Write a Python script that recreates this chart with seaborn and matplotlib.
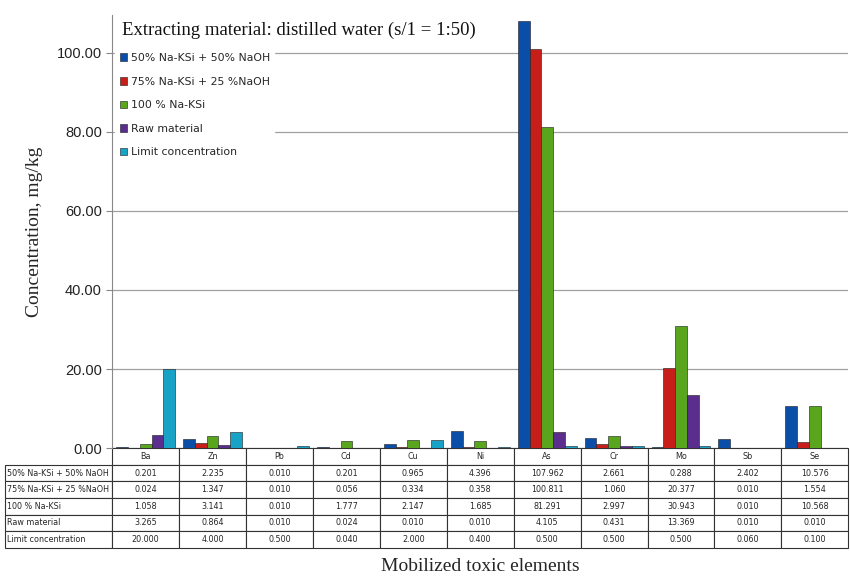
import pandas as pd
import matplotlib
matplotlib.use("Agg")
import matplotlib.pyplot as plt
import seaborn as sns

# 데이터
elements = ["Ba", "Zn", "Pb", "Cd", "Cu", "Ni", "As", "Cr", "Mo", "Sb", "Se"]
series_names = ["50% Na-KSi + 50% NaOH", "75% Na-KSi + 25 %NaOH", "100 % Na-KSi",
                "Raw material", "Limit concentration"]
table_names = ["50% Na-KSi + 50% NaOH", "75% Na-KSi + 25 %NaOH", "100 % Na-KSi",
               "Raw material", "Limit concentration"]
na50 = [0.201, 2.235, 0.010, 0.201, 0.965, 4.396, 107.962, 2.661, 0.288, 2.402, 10.576]
na75 = [0.024, 1.347, 0.010, 0.056, 0.334, 0.358, 100.811, 1.060, 20.377, 0.010, 1.554]
na100 = [1.058, 3.141, 0.010, 1.777, 2.147, 1.685, 81.291, 2.997, 30.943, 0.010, 10.568]
raw = [3.265, 0.864, 0.010, 0.024, 0.010, 0.010, 4.105, 0.431, 13.369, 0.010, 0.010]
limit = [20.000, 4.000, 0.500, 0.040, 2.000, 0.400, 0.500, 0.500, 0.500, 0.060, 0.100]
colors = ["#0b4ea8", "#c81e1a", "#5aa51e", "#5b2d8c", "#17a2c6"]

values = [na50, na75, na100, raw, limit]
rows = []
for name, vals in zip(series_names, values):
    for el, v in zip(elements, vals):
        rows.append({"element": el, "value": v, "series": name})
df = pd.DataFrame(rows)

sns.set_style("white")
fig = plt.figure(figsize = (8.5, 5.82), dpi = 100)
ax = fig.add_axes([0.132, 0.23, 0.866, 0.744])

sns.barplot(data = df, x = "element", y = "value", hue = "series", order = elements,
            hue_order = series_names, palette = colors, saturation = 1, width = 0.88, ax = ax,
            edgecolor = "#1a1a1a", linewidth = 0.4, zorder = 3)

ax.set_ylim(0, 109.5)
ax.set_xlim(-0.5, len(elements) - 0.5)
ax.set_yticks([0, 20, 40, 60, 80, 100])
ax.set_yticklabels([f"{t:.2f}" for t in [0, 20, 40, 60, 80, 100]],
                   fontsize = 10.5, family = "Liberation Sans", color = "#222222")
ax.tick_params(axis = "y", length = 4, color = "#888888", direction = "out", left = True)
ax.yaxis.grid(True, color = "#a0a0a0", linewidth = 0.9, zorder = 0)
ax.set_axisbelow(True)
for s in ["top", "right", "bottom"]:
    ax.spines[s].set_visible(False)
ax.spines["left"].set_color("#888888")
ax.set_xticks([])
ax.set_xlabel("")
ax.set_ylabel("Concentration, mg/kg", fontsize = 14, family = "Liberation Serif", labelpad = 10)

ax.text(0.013, 0.985, "Extracting material: distilled water (s/1 = 1:50)", transform = ax.transAxes,
        ha = "left", va = "top", fontsize = 13.5, family = "Liberation Serif", color = "#111111")

handles, labels = ax.get_legend_handles_labels()
leg = ax.legend(handles, labels, loc = "upper left", bbox_to_anchor = (0.0, 0.93), fontsize = 7.8,
                frameon = True, facecolor = "white", edgecolor = "white", framealpha = 1,
                handlelength = 0.7, handleheight = 0.7, handletextpad = 0.3,
                labelspacing = 1.25, borderaxespad = 0.3, borderpad = 0.4)
leg.set_zorder(5)

# 하단 데이터 테이블
cell_text = [[name] + [f"{v:.3f}" for v in vals] for name, vals in zip(table_names, values)]
col_labels = [""] + elements
tab = ax.table(cellText = cell_text, colLabels = col_labels, cellLoc = "center",
               colWidths = [107] + [67] * len(elements),
               bbox = [-0.1454, -0.2304, 1.1454, 0.2304])
tab.auto_set_font_size(False)
tab.set_fontsize(5.8)
for (r, c), cell in tab.get_celld().items():
    cell.set_linewidth(0.8)
    cell.set_edgecolor("#333333")
    if c == 0:
        cell.get_text().set_ha("left")
        cell._loc = "left"
        cell.PAD = 0.02
    if r == 0 and c == 0:
        cell.visible_edges = "open"

fig.text(0.565, 0.012, "Mobilized toxic elements", ha = "center", va = "bottom",
         fontsize = 14, family = "Liberation Serif")

plt.savefig("out.png", dpi = 100)
plt.close()
